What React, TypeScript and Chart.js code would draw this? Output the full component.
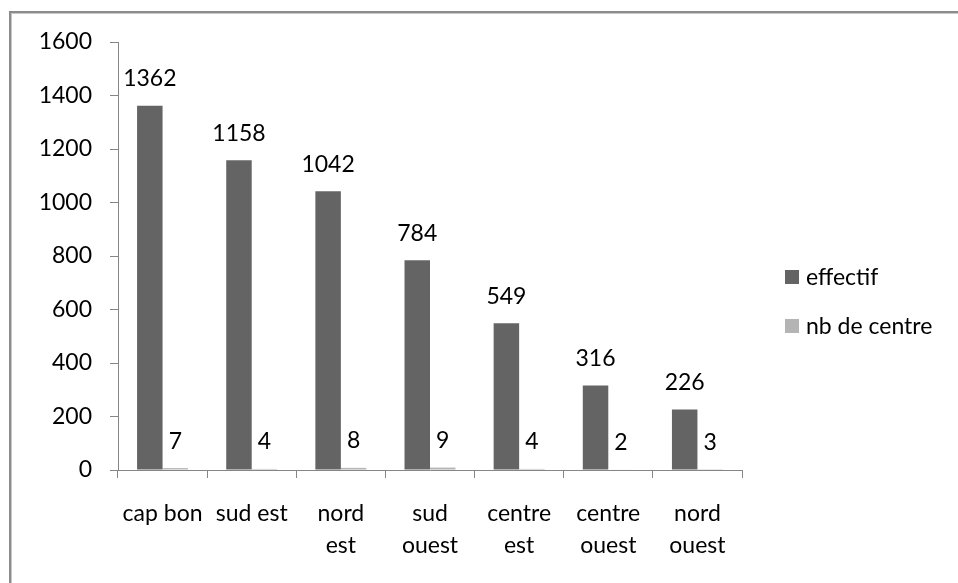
import React, { useEffect, useRef } from "react";
import { Chart, registerables } from "chart.js";

Chart.register(...registerables);

const categories: string[][] = [
  ["cap bon"],
  ["sud est"],
  ["nord", "est"],
  ["sud", "ouest"],
  ["centre", "est"],
  ["centre", "ouest"],
  ["nord", "ouest"],
];
const effectif: number[] = [1362, 1158, 1042, 784, 549, 316, 226];
const nbCentre: number[] = [7, 4, 8, 9, 4, 2, 3];
const seriesNames: string[] = ["effectif", "nb de centre"];
const seriesColors: string[] = ["#646464", "#b4b4b4"];
const yMin = 0;
const yMax = 1600;
const yStep = 200;

const FONT = "Lato, 'Open Sans', sans-serif";
const FS = 23;

const framePlugin = {
  id: "frame",
  beforeDraw(chart: any) {
    const ctx = chart.ctx;
    ctx.save();
    ctx.fillStyle = "#8c8c8c";
    ctx.fillRect(9, 11, 2, chart.height - 11);
    ctx.fillRect(9, 11, chart.width - 9, 2);
    ctx.fillStyle = "#c8c8c8";
    ctx.fillRect(11, 13, 1, chart.height - 13);
    ctx.fillRect(11, 13, chart.width - 11, 1);
    ctx.restore();
  },
};

const valueLabelPlugin = {
  id: "valueLabels",
  afterDatasetsDraw(chart: any) {
    const ctx = chart.ctx;
    ctx.save();
    ctx.font = `${FS}px ${FONT}`;
    ctx.fillStyle = "#000";
    ctx.textAlign = "center";
    ctx.textBaseline = "middle";
    chart.data.datasets.forEach((ds: any, i: number) => {
      const meta = chart.getDatasetMeta(i);
      meta.data.forEach((el: any, j: number) => {
        ctx.fillText(String(ds.data[j]), el.x, el.y - 27);
      });
    });
    ctx.restore();
  },
};

const legendPlugin = {
  id: "customLegend",
  afterDraw(chart: any) {
    const ctx = chart.ctx;
    ctx.save();
    ctx.font = `${FS}px ${FONT}`;
    ctx.textAlign = "left";
    ctx.textBaseline = "middle";
    const ys = [277, 326];
    seriesNames.forEach((name, i) => {
      ctx.fillStyle = seriesColors[i];
      ctx.fillRect(785, ys[i] - 7, 14, 14);
      ctx.fillStyle = "#000";
      ctx.fillText(name, 806, ys[i] + 1);
    });
    ctx.restore();
  },
};

export default function App() {
  const ref = useRef<HTMLCanvasElement | null>(null);

  useEffect(() => {
    if (!ref.current) return;
    const axisColor = "#868686";
    const chart = new Chart(ref.current, {
      type: "bar",
      data: {
        labels: categories,
        datasets: [
          {
            label: seriesNames[0],
            data: effectif,
            backgroundColor: seriesColors[0],
            categoryPercentage: 0.572,
            barPercentage: 1,
          },
          {
            label: seriesNames[1],
            data: nbCentre,
            backgroundColor: seriesColors[1],
            categoryPercentage: 0.572,
            barPercentage: 1,
          },
        ],
      },
      options: {
        animation: false,
        responsive: true,
        maintainAspectRatio: false,
        devicePixelRatio: 1,
        layout: { padding: { left: 0, top: 42, right: 216, bottom: 0 } },
        plugins: {
          legend: { display: false },
          tooltip: { enabled: false },
          title: { display: false },
        },
        scales: {
          x: {
            afterFit: (s: any) => {
              s.height = 113;
            },
            grid: {
              display: true,
              drawOnChartArea: false,
              drawTicks: true,
              tickLength: 8,
              color: axisColor,
              offset: true,
            },
            border: { display: true, color: axisColor, width: 1 },
            ticks: {
              color: "#000",
              padding: 20,
              maxRotation: 0,
              autoSkip: false,
              font: { family: FONT, size: FS, lineHeight: 1.38 },
            },
          },
          y: {
            min: yMin,
            max: yMax,
            afterFit: (s: any) => {
              s.width = 118;
            },
            grid: {
              display: true,
              drawOnChartArea: false,
              drawTicks: true,
              tickLength: 8,
              color: axisColor,
            },
            border: { display: true, color: axisColor, width: 1 },
            ticks: {
              stepSize: yStep,
              color: "#000",
              padding: 18,
              font: { family: FONT, size: FS },
              callback: (v: any) => String(v),
            },
          },
        },
      },
      plugins: [framePlugin, valueLabelPlugin, legendPlugin],
    });
    let alive = true;
    if ((document as any).fonts && (document as any).fonts.ready) {
      (document as any).fonts.ready.then(() => {
        if (alive) chart.update();
      });
    }
    return () => {
      alive = false;
      chart.destroy();
    };
  }, []);

  return (
    <div
      style={{
        position: "absolute",
        left: 0,
        top: 0,
        width: 958,
        height: 583,
        background: "#fff",
      }}
    >
      <canvas ref={ref} />
    </div>
  );
}
